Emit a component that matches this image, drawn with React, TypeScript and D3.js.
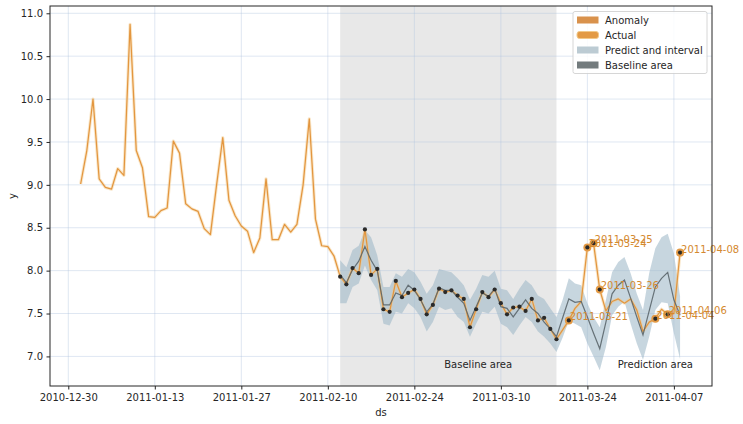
import * as d3 from "d3";
import { useEffect, useRef } from "react";

// daily actual values, 2011-01-01 .. 2011-04-08
const actualStart = "2011-01-01";
const actualValues = [
  9.01, 9.4, 10.0, 9.07, 8.97, 8.95, 9.19, 9.11, 10.87, 9.4,
  9.2, 8.63, 8.62, 8.7, 8.73, 9.51, 9.37, 8.78, 8.72, 8.69,
  8.49, 8.42, 9.0, 9.55, 8.82, 8.64, 8.52, 8.46, 8.21, 8.38,
  9.07, 8.36, 8.36, 8.54, 8.45, 8.54, 9.0, 9.77, 8.6, 8.29,
  8.28, 8.17, 7.93, 7.84, 8.03, 7.97, 8.48, 7.95, 8.02, 7.55,
  7.52, 7.88, 7.69, 7.74, 7.78, 7.67, 7.49, 7.6, 7.79, 7.75,
  7.77, 7.71, 7.67, 7.34, 7.55, 7.75, 7.69, 7.78, 7.62, 7.49,
  7.57, 7.58, 7.53, 7.67, 7.42, 7.45, 7.32, 7.2, 7.31, 7.42,
  7.56, 7.64, 8.27, 8.32, 7.78, 7.53, 7.64, 7.67, 7.62, 7.67,
  7.54, 7.29, 7.4, 7.44, 7.55, 7.49, 7.5, 8.21,
];

// prediction + interval, 2011-02-12 .. 2011-04-08
const predictStart = "2011-02-12";
const predictedValues = [
  7.95, 7.86, 8.01, 8.11, 8.28, 8.12, 8.0, 7.6, 7.6, 7.74,
  7.71, 7.83, 7.77, 7.66, 7.52, 7.61, 7.8, 7.77, 7.77, 7.69,
  7.62, 7.42, 7.58, 7.74, 7.7, 7.79, 7.58, 7.56, 7.46, 7.56,
  7.66, 7.56, 7.5, 7.4, 7.32, 7.23, 7.45, 7.67, 7.63, 7.64,
  7.46, 7.27, 7.09, 7.4, 7.73, 7.83, 7.89, 7.68, 7.46, 7.25,
  7.53, 7.81, 7.91, 7.98, 7.66, 7.48,
];
const upperValues = [
  8.12, 8.04, 8.24, 8.29, 8.47, 8.39, 8.18, 7.81, 7.81, 7.97,
  7.93, 8.02, 7.98, 7.87, 7.73, 7.83, 8.02, 8.0, 7.98, 7.91,
  7.83, 7.66, 7.79, 7.95, 7.93, 8.0, 7.79, 7.77, 7.67, 7.79,
  7.89, 7.83, 7.71, 7.67, 7.56, 7.46, 7.66, 7.91, 7.85, 7.83,
  7.62, 7.46, 7.34, 7.66, 7.98, 8.1, 8.16, 7.97, 7.73, 7.54,
  7.97, 8.26, 8.39, 8.43, 8.2, 7.7,
];
const lowerValues = [
  7.62, 7.62, 7.81, 7.85, 8.06, 7.89, 7.77, 7.38, 7.36, 7.52,
  7.5, 7.62, 7.56, 7.46, 7.29, 7.4, 7.58, 7.54, 7.56, 7.46,
  7.4, 7.23, 7.38, 7.52, 7.5, 7.58, 7.38, 7.34, 7.25, 7.36,
  7.46, 7.4, 7.29, 7.23, 7.15, 7.05, 7.22, 7.42, 7.38, 7.34,
  7.15, 7.0, 6.84, 7.11, 7.48, 7.58, 7.64, 7.38, 7.15, 6.96,
  7.23, 7.54, 7.63, 7.62, 7.27, 6.97,
];

const baselineRange = ["2011-02-12", "2011-03-19"];
const anomalyDates = [
  "2011-03-21", "2011-03-24", "2011-03-25", "2011-03-26",
  "2011-04-04", "2011-04-06", "2011-04-08",
];
const xTicks = [
  "2010-12-30", "2011-01-13", "2011-01-27", "2011-02-10",
  "2011-02-24", "2011-03-10", "2011-03-24", "2011-04-07",
];
const yTicks = [7.0, 7.5, 8.0, 8.5, 9.0, 9.5, 10.0, 10.5, 11.0];
const legendItems = ["Anomaly", "Actual", "Predict and interval", "Baseline area"];

const FONT = "DejaVu Sans, sans-serif";

export default function App() {
  const svgRef = useRef<SVGSVGElement | null>(null);
  useEffect(() => {
    document.body.style.margin = "0";
    if (!svgRef.current) return;
    drawChart(svgRef.current);
  }, []);
  return <svg ref={svgRef} width={743} height={424} style={{ display: "block" }} />;
}

function drawChart(svgElement: SVGSVGElement) {
  const svg = d3.select(svgElement);
  svg.selectAll("*").remove();

  const parse = d3.timeParse("%Y-%m-%d");
  const fmt = d3.timeFormat("%Y-%m-%d");

  const t0 = parse(actualStart)!;
  const actual = actualValues.map((v, i) => ({ date: d3.timeDay.offset(t0, i), v }));
  const p0 = parse(predictStart)!;
  const predict = predictedValues.map((v, i) => ({
    date: d3.timeDay.offset(p0, i),
    v,
    hi: upperValues[i],
    lo: lowerValues[i],
  }));

  const left = 50, right = 712, top = 6, bottom = 386;

  const x = d3
    .scaleTime()
    .domain([new Date(2010, 11, 27, 1), new Date(2011, 3, 13, 4)])
    .range([left, right]);
  const y = d3.scaleLinear().domain([6.655, 11.085]).range([bottom, top]);

  svg.append("rect").attr("width", 743).attr("height", 424).attr("fill", "#fff");

  const defs = svg.append("defs");
  defs.append("clipPath").attr("id", "plot").append("rect")
    .attr("x", left).attr("y", top).attr("width", right - left).attr("height", bottom - top);

  const plot = svg.append("g").attr("clip-path", "url(#plot)");

  // baseline area shading
  const b0 = parse(baselineRange[0])!;
  const b1 = parse(baselineRange[1])!;
  plot.append("rect")
    .attr("x", x(b0)).attr("y", top)
    .attr("width", x(b1) - x(b0)).attr("height", bottom - top)
    .attr("fill", "#e8e8e8");

  // grid
  plot.append("g").selectAll("line").data(yTicks).join("line")
    .attr("x1", left).attr("x2", right)
    .attr("y1", d => y(d)).attr("y2", d => y(d))
    .attr("stroke", "#b0c4de").attr("stroke-opacity", 0.5).attr("stroke-width", 0.8);
  plot.append("g").selectAll("line").data(xTicks).join("line")
    .attr("x1", d => x(parse(d)!)).attr("x2", d => x(parse(d)!))
    .attr("y1", top).attr("y2", bottom)
    .attr("stroke", "#b0c4de").attr("stroke-opacity", 0.5).attr("stroke-width", 0.8);

  // interval band
  const band = d3.area<{ date: Date; hi: number; lo: number }>()
    .x(d => x(d.date)).y0(d => y(d.lo)).y1(d => y(d.hi));
  plot.append("path").datum(predict).attr("d", band)
    .attr("fill", "#9fb9c8").attr("fill-opacity", 0.58);

  const line = d3.line<{ date: Date; v: number }>().x(d => x(d.date)).y(d => y(d.v));

  // actual line (halo + line)
  plot.append("path").datum(actual).attr("d", line)
    .attr("fill", "none").attr("stroke", "#f2c98a").attr("stroke-opacity", 0.45)
    .attr("stroke-width", 3.2).attr("stroke-linejoin", "round");
  plot.append("path").datum(actual).attr("d", line)
    .attr("fill", "none").attr("stroke", "#e3963f").attr("stroke-width", 1.25)
    .attr("stroke-linejoin", "round");

  // predicted baseline line
  plot.append("path").datum(predict).attr("d", line)
    .attr("fill", "none").attr("stroke", "#5b666c").attr("stroke-width", 1.2)
    .attr("stroke-opacity", 0.9);

  // anomaly markers
  const anomalies = anomalyDates.map(s => actual.find(d => fmt(d.date) === s)!);
  plot.append("g").selectAll("circle").data(anomalies).join("circle")
    .attr("cx", d => x(d.date)).attr("cy", d => y(d.v)).attr("r", 4)
    .attr("fill", "#e39a45");

  // black points: baseline window + anomalies
  const dots = actual.filter(d => d.date >= b0 && d.date <= b1).concat(anomalies);
  plot.append("g").selectAll("circle").data(dots).join("circle")
    .attr("cx", d => x(d.date)).attr("cy", d => y(d.v)).attr("r", 2.1)
    .attr("fill", "#2a2a2a");

  // anomaly labels
  svg.append("g").selectAll("text").data(anomalies).join("text")
    .attr("x", d => x(d.date) + 1).attr("y", d => y(d.v))
    .attr("font-family", FONT).attr("font-size", 10).attr("fill", "#d4892f")
    .text(d => fmt(d.date));

  // area captions
  svg.append("text")
    .attr("x", x(new Date(2011, 2, 6, 8))).attr("y", y(6.91))
    .attr("text-anchor", "middle").attr("dominant-baseline", "central")
    .attr("font-family", FONT).attr("font-size", 10).attr("fill", "#262626")
    .text("Baseline area");
  svg.append("text")
    .attr("x", x(new Date(2011, 3, 4, 0))).attr("y", y(6.91))
    .attr("text-anchor", "middle").attr("dominant-baseline", "central")
    .attr("font-family", FONT).attr("font-size", 10).attr("fill", "#262626")
    .text("Prediction area");

  // frame
  svg.append("rect")
    .attr("x", left).attr("y", top).attr("width", right - left).attr("height", bottom - top)
    .attr("fill", "none").attr("stroke", "#262626").attr("stroke-width", 1);

  // axes
  const xAxis = svg.append("g")
    .attr("transform", `translate(0,${bottom})`)
    .call(
      d3.axisBottom(x)
        .tickValues(xTicks.map(d => parse(d)!))
        .tickFormat(d => fmt(d as Date))
        .tickSizeInner(3.5).tickSizeOuter(0).tickPadding(4.5)
    );
  xAxis.select(".domain").remove();
  xAxis.selectAll("text").attr("font-family", FONT).attr("font-size", 10).attr("fill", "#262626");
  xAxis.selectAll("line").attr("stroke", "#262626");

  const yAxis = svg.append("g")
    .attr("transform", `translate(${left},0)`)
    .call(
      d3.axisLeft(y)
        .tickValues(yTicks)
        .tickFormat(d3.format(".1f"))
        .tickSizeInner(3.5).tickSizeOuter(0).tickPadding(3.5)
    );
  yAxis.select(".domain").remove();
  yAxis.selectAll("text").attr("font-family", FONT).attr("font-size", 10).attr("fill", "#262626");
  yAxis.selectAll("line").attr("stroke", "#262626");

  // axis labels
  svg.append("text")
    .attr("x", (left + right) / 2).attr("y", 412)
    .attr("text-anchor", "middle").attr("dominant-baseline", "central")
    .attr("font-family", FONT).attr("font-size", 10).attr("fill", "#262626")
    .text("ds");
  svg.append("text")
    .attr("transform", `translate(12,${(top + bottom) / 2}) rotate(-90)`)
    .attr("text-anchor", "middle").attr("dominant-baseline", "central")
    .attr("font-family", FONT).attr("font-size", 10).attr("fill", "#262626")
    .text("y");

  // legend
  const legendColors = ["#d9924c", "#e39a45", "#bccbd3", "#737b7d"];
  const lg = svg.append("g").attr("transform", "translate(573,11.5)");
  lg.append("rect").attr("width", 134).attr("height", 62).attr("rx", 2)
    .attr("fill", "#fff").attr("fill-opacity", 0.85)
    .attr("stroke", "#cccccc").attr("stroke-width", 0.8);
  const rows = lg.selectAll("g.item").data(legendItems).join("g")
    .attr("class", "item")
    .attr("transform", (_, i) => `translate(0,${8.5 + i * 15})`);
  rows.append("rect")
    .attr("x", 4).attr("y", -3.5).attr("width", 21.5).attr("height", 7)
    .attr("rx", (_, i) => (i === 1 ? 2.5 : 0))
    .attr("fill", (_, i) => legendColors[i])
    .attr("stroke", (_, i) => (i === 1 ? "#f2c98a" : "none"))
    .attr("stroke-width", 1);
  rows.append("text")
    .attr("x", 32).attr("y", 0).attr("dominant-baseline", "central")
    .attr("font-family", FONT).attr("font-size", 10).attr("fill", "#262626")
    .text(d => d);
}
